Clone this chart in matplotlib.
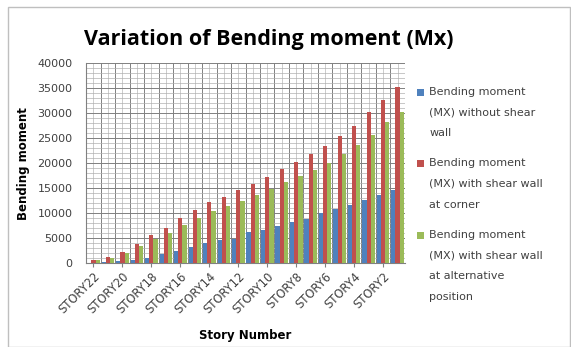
import numpy as np
import matplotlib
matplotlib.use('Agg')
import matplotlib.pyplot as plt
from matplotlib.patches import Rectangle
from matplotlib.ticker import MultipleLocator

## Data
stories = ['STORY' + str(n) for n in range(22, 0, -1)]
mx_no_wall = [100, 200, 400, 700, 1100, 1800, 2500, 3300, 4100, 4600, 4900,
              6300, 6600, 7400, 8300, 8900, 10100, 10900, 11600, 12600, 13600, 14600]
mx_corner = [700, 1300, 2300, 3900, 5600, 7000, 9000, 10600, 12300, 13300, 14600,
             15900, 17300, 18900, 20300, 21800, 23400, 25400, 27400, 30300, 32600, 35300]
mx_alt = [600, 1100, 2000, 3400, 4800, 6000, 7700, 9100, 10500, 11400, 12500,
          13600, 14800, 16200, 17400, 18700, 20100, 21800, 23600, 25600, 28300, 30300]
series_labels = ['Bending moment\n(MX) without shear\nwall',
                 'Bending moment\n(MX) with shear wall\nat corner',
                 'Bending moment\n(MX) with shear wall\nat alternative\nposition']
colors = ['#4F81BD', '#C0504D', '#9BBB59']

plt.rcParams['font.family'] = ['DejaVu Sans']
DPI = 100

fig = plt.figure(figsize=(5.71, 3.47), dpi=DPI)
ax = fig.add_axes([0.151, 0.242, 0.558, 0.576])

## outer chart frame
fig.patches.append(Rectangle((0.014, 0.0), 0.984, 0.98, transform=fig.transFigure,
                             fill=False, edgecolor='#BFBFBF', linewidth=1.0))

x = np.arange(len(stories))
w = 0.29
for k, (vals, col, lab) in enumerate(zip([mx_no_wall, mx_corner, mx_alt], colors, series_labels)):
    ax.bar(x + (k - 1) * w, vals, width=w, color=col, label=lab, zorder=3)

ax.set_xlim(-0.5, len(stories) - 0.5)
ax.set_ylim(0, 40000)
ax.yaxis.set_major_locator(MultipleLocator(5000))
ax.yaxis.set_minor_locator(MultipleLocator(1000))

## gridlines: horizontal major/minor, vertical at category edges and centres
ax.grid(which='major', axis='y', color='#808080', linewidth=0.7, zorder=0)
ax.grid(which='minor', axis='y', color='#B0B0B0', linewidth=0.5, zorder=0)
for b in np.arange(-0.5, len(stories), 1.0):
    ax.axvline(b, color='#808080', linewidth=0.7, zorder=0)
for c in x:
    ax.axvline(c, color='#B8B8B8', linewidth=0.5, zorder=0)

ax.set_xticks(x[::2])
ax.set_xticklabels(stories[::2], rotation=45, ha='right', rotation_mode='anchor', fontsize=8.3)
ax.tick_params(axis='x', length=3, color='#808080', pad=2, labelcolor='#404040')
ax.tick_params(axis='y', which='both', length=0, labelsize=8, pad=10, labelcolor='#404040')

for side in ['top', 'right']:
    ax.spines[side].set_visible(False)
ax.spines['left'].set_color('#808080')
ax.spines['bottom'].set_color('#808080')

ax.set_ylabel('Bending moment', fontsize=8.5, fontweight='bold', labelpad=5)
ax.set_xlabel('Story Number', fontsize=8.5, fontweight='bold', labelpad=9)
fig.text(0.47, 0.885, 'Variation of Bending moment (Mx)', ha='center', va='center',
         fontsize=15.5, fontweight='bold', family=['Open Sans', 'DejaVu Sans'])

leg = ax.legend(loc='upper left', bbox_to_anchor=(1.025, 0.905), frameon=False,
                fontsize=8, handlelength=0.6, handleheight=0.6, handletextpad=0.5,
                labelspacing=1.8, borderaxespad=0)
for t in leg.get_texts():
    t.set_linespacing(2.35)
    t.set_color('#404040')

## move each legend square up to the first line of its label
fig.canvas.draw()
for p, t in zip(leg.get_patches(), leg.get_texts()):
    tb = t.get_window_extent()
    pb = p.get_window_extent()
    shift_px = (tb.y1 - 2) - pb.y1
    p.set_y(p.get_y() + shift_px * 72.0 / DPI)

fig.savefig('out.png', dpi=DPI)
